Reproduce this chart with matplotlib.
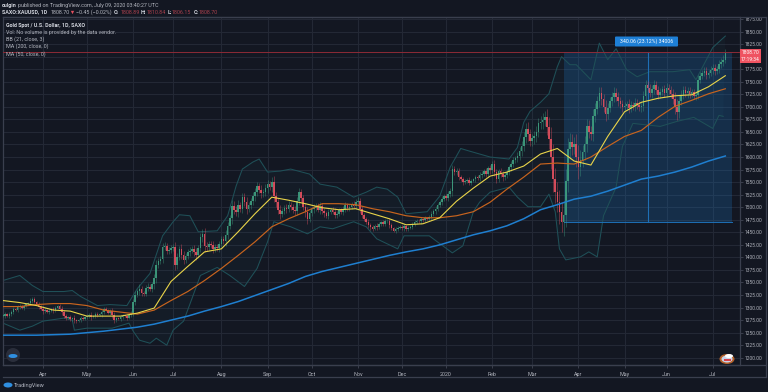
import numpy as np
import matplotlib
matplotlib.use('Agg')
import matplotlib.pyplot as plt
from matplotlib.patches import Rectangle, Circle, Ellipse, FancyBboxPatch

plt.rcParams['font.family'] = ['Roboto', 'DejaVu Sans']

# daily closes
closes = [
    1284, 1287, 1283, 1288, 1291, 1298, 1295, 1301, 1304, 1300, 1304, 1307, 1310, 1314, 1318, 1312, 1307, 1302, 1298, 1293,
    1296, 1292, 1294, 1297, 1295, 1300, 1304, 1298, 1291, 1284, 1279, 1281, 1277, 1279, 1275, 1273, 1276, 1280, 1278, 1281,
    1283, 1286, 1281, 1284, 1288, 1285, 1287, 1291, 1298, 1296, 1290, 1293, 1286, 1275, 1279, 1277, 1281, 1284, 1283, 1280,
    1285, 1290, 1312, 1326, 1333, 1338, 1330, 1328, 1340, 1342, 1337, 1346, 1358, 1385, 1392, 1397, 1421, 1423, 1412, 1415,
    1418, 1421, 1384, 1400, 1417, 1405, 1394, 1403, 1410, 1413, 1417, 1410, 1404, 1418, 1440, 1447, 1423, 1420, 1427, 1424,
    1417, 1421, 1418, 1426, 1437, 1432, 1445, 1463, 1478, 1503, 1495, 1490, 1504, 1497, 1520, 1510, 1497, 1504, 1512, 1522,
    1530, 1542, 1535, 1528, 1530, 1538, 1546, 1540, 1550, 1522, 1510, 1495, 1487, 1492, 1498, 1497, 1505, 1500, 1495, 1493,
    1512, 1530, 1518, 1500, 1490, 1477, 1488, 1496, 1499, 1503, 1495, 1502, 1492, 1488, 1483, 1490, 1495, 1491, 1485, 1487,
    1494, 1490, 1497, 1504, 1498, 1500, 1507, 1503, 1510, 1512, 1496, 1484, 1477, 1470, 1464, 1460, 1457, 1463, 1460, 1466,
    1470, 1467, 1472, 1473, 1465, 1458, 1453, 1456, 1459, 1461, 1458, 1462, 1456, 1459, 1461, 1466, 1470, 1473, 1472, 1476,
    1474, 1478, 1477, 1480, 1487, 1492, 1497, 1504, 1510, 1517, 1522, 1519, 1527, 1532, 1576, 1570, 1573, 1560, 1556, 1550,
    1552, 1555, 1549, 1553, 1556, 1560, 1558, 1564, 1567, 1572, 1566, 1578, 1574, 1586, 1570, 1556, 1572, 1566, 1560, 1565,
    1570, 1580, 1586, 1594, 1598, 1602, 1612, 1622, 1640, 1655, 1645, 1631, 1637, 1641, 1650, 1668, 1669, 1674, 1679, 1660,
    1635, 1600, 1556, 1530, 1510, 1490, 1471, 1484, 1552, 1615, 1629, 1620, 1625, 1600, 1580, 1595, 1610, 1625, 1661, 1650,
    1645, 1681, 1695, 1711, 1728, 1716, 1700, 1685, 1698, 1711, 1720, 1728, 1720, 1711, 1705, 1699, 1702, 1705, 1697, 1703,
    1701, 1708, 1704, 1699, 1701, 1722, 1744, 1738, 1727, 1735, 1744, 1733, 1724, 1730, 1736, 1728, 1738, 1733, 1725, 1715,
    1700, 1689, 1712, 1724, 1734, 1727, 1731, 1725, 1729, 1722, 1724, 1754, 1762, 1768, 1772, 1764, 1768, 1774, 1778, 1771,
    1775, 1785, 1790, 1794, 1809,
]

# wick length beyond the body
wicks = [
    3, 4, 2, 3, 5, 3, 2, 4, 3, 2, 4, 3, 2, 5, 4, 3, 2, 4, 3, 5,
    3, 2, 4, 3, 5, 4, 2, 3, 5, 4, 3, 2, 4, 3, 6, 3, 2, 4, 3, 2,
    4, 3, 5, 2, 4, 3, 2, 5, 4, 3, 2, 4, 6, 5, 3, 2, 4, 3, 2, 5,
    3, 4, 6, 7, 5, 8, 6, 4, 5, 6, 4, 5, 8, 9, 6, 5, 8, 7, 6, 5,
    7, 6, 10, 8, 6, 9, 7, 5, 6, 8, 5, 7, 9, 6, 8, 10, 12, 7, 6, 5,
    8, 6, 5, 7, 6, 5, 9, 8, 7, 12, 9, 8, 10, 7, 9, 8, 10, 6, 7, 8,
    9, 8, 6, 10, 7, 8, 9, 6, 10, 12, 9, 8, 10, 7, 6, 8, 7, 5, 6, 8,
    9, 8, 7, 6, 9, 10, 6, 5, 7, 6, 5, 8, 6, 7, 5, 6, 4, 5, 7, 6,
    5, 4, 6, 7, 5, 6, 4, 5, 6, 8, 7, 6, 5, 4, 6, 5, 4, 3, 5, 4,
    3, 5, 4, 3, 6, 4, 3, 5, 4, 3, 4, 5, 3, 4, 3, 5, 4, 3, 4, 5,
    3, 4, 3, 4, 5, 4, 6, 5, 4, 6, 5, 4, 6, 7, 9, 6, 5, 6, 4, 5,
    4, 3, 5, 4, 3, 5, 4, 6, 5, 4, 6, 5, 7, 6, 8, 7, 5, 6, 7, 5,
    6, 5, 7, 6, 5, 8, 7, 9, 10, 12, 14, 10, 9, 11, 12, 10, 13, 14, 12, 16,
    20, 24, 26, 22, 20, 24, 20, 28, 24, 22, 18, 16, 14, 20, 24, 18, 14, 16, 15, 12,
    11, 14, 12, 10, 11, 12, 10, 14, 9, 8, 10, 11, 9, 10, 8, 9, 8, 7, 10, 8,
    7, 9, 8, 7, 9, 10, 9, 8, 7, 9, 10, 8, 9, 7, 6, 8, 9, 7, 8, 10,
    14, 16, 12, 9, 8, 7, 9, 8, 6, 7, 8, 9, 7, 6, 7, 8, 6, 7, 8, 7,
    6, 8, 7, 9, 6,
]

# moving averages, sampled every 8 bars
ma_step = 8
ma20 = [1314, 1310, 1304, 1295, 1293, 1283, 1283, 1283, 1289, 1299, 1352, 1382, 1411, 1417, 1451, 1487, 1520, 1514, 1507, 1499, 1495, 1497,
        1487, 1477, 1465, 1467, 1479, 1512, 1538, 1562, 1570, 1582, 1606, 1617, 1592, 1584, 1641, 1690, 1709, 1717, 1722, 1724, 1740, 1762]
ma50 = [1302, 1302, 1306, 1308, 1308, 1304, 1295, 1291, 1287, 1295, 1314, 1332, 1354, 1378, 1404, 1431, 1461, 1477, 1491, 1507, 1507, 1505,
        1497, 1491, 1483, 1479, 1479, 1483, 1491, 1510, 1536, 1560, 1586, 1588, 1586, 1600, 1621, 1641, 1653, 1679, 1701, 1713, 1726, 1736]
ma200 = [1245, 1245, 1245, 1246, 1247, 1250, 1253, 1257, 1261, 1267, 1275, 1283, 1293, 1302, 1312, 1324, 1336, 1348, 1362, 1372, 1380, 1388,
         1396, 1404, 1411, 1417, 1425, 1435, 1445, 1453, 1463, 1477, 1495, 1505, 1516, 1522, 1532, 1544, 1556, 1562, 1570, 1580, 1592, 1602]

# bollinger bands
bb_up_bars = [0, 8, 14, 19, 29, 33, 37, 45, 51, 59, 64, 70, 76, 81, 84, 89, 93, 102, 107, 111, 114, 119, 122, 126, 132, 137, 146, 151, 159, 167, 173, 178,
              183, 188, 192, 202, 208, 213, 218, 222, 232, 241, 245, 248, 251, 256, 260, 264, 266, 270, 273, 280, 284, 288, 292, 297, 302, 308, 319, 327, 330, 335, 338, 344]
bb_up = [1354, 1364, 1344, 1332, 1332, 1334, 1322, 1304, 1306, 1304, 1338, 1368, 1443, 1471, 1485, 1483, 1451, 1453, 1483, 1542, 1576, 1590, 1596, 1570, 1572, 1576, 1566, 1546, 1540, 1520, 1530, 1540,
         1536, 1520, 1487, 1491, 1522, 1580, 1617, 1612, 1600, 1596, 1619, 1669, 1691, 1709, 1726, 1780, 1800, 1784, 1784, 1754, 1827, 1794, 1816, 1774, 1760, 1770, 1770, 1774, 1754, 1794, 1818, 1841]
bb_lo_bars = [0, 8, 14, 19, 29, 33, 34, 40, 46, 52, 60, 62, 65, 70, 73, 78, 81, 86, 90, 94, 102, 108, 115, 121, 126, 129, 137, 145, 151, 157, 167, 173, 178,
              188, 191, 203, 214, 219, 224, 227, 232, 241, 245, 250, 256, 260, 263, 265, 268, 275, 279, 283, 286, 292, 295, 300, 313, 321, 329, 338, 341, 343]
bb_lo = [1269, 1255, 1263, 1273, 1279, 1275, 1255, 1259, 1259, 1259, 1269, 1253, 1235, 1229, 1239, 1225, 1255, 1273, 1318, 1364, 1380, 1364, 1342, 1378, 1431, 1471, 1461, 1447, 1461, 1457, 1471, 1461, 1437,
         1417, 1443, 1443, 1409, 1423, 1491, 1510, 1530, 1540, 1520, 1501, 1501, 1526, 1491, 1417, 1395, 1401, 1411, 1401, 1483, 1540, 1621, 1667, 1661, 1671, 1679, 1657, 1683, 1681]

month_bars = [19, 40, 62, 81, 104, 126, 147, 169, 190, 211, 233, 252, 274, 296, 316, 338]
month_labels = ['Apr', 'May', 'Jun', 'Jul', 'Aug', 'Sep', 'Oct', 'Nov', 'Dec', '2020', 'Feb', 'Mar', 'Apr', 'May', 'Jun', 'Jul']
price_ticks = list(range(1200, 1876, 25))

last_price = 1808.70
box_bars = (267, 347)
box_prices = (1471, 1808.7)
arrow_bar = 307

BG = '#131722'
GRID = '#232835'
TXT = '#b2b5be'
UP = '#3f9f80'
DOWN = '#e4505f'

W, H = 768, 392
fig = plt.figure(figsize=(W / 100, H / 100), dpi=100, facecolor=BG)
ax = fig.add_axes([3 / W, 1 - 365 / H, 737 / W, 348 / H], facecolor=BG)
ax.set_xlim(0, 351)
ax.set_ylim(1185.6, 1879)

ax.set_yticks(price_ticks)
# the 1800 label sits under the last price tag
ax.set_yticklabels(['' if p == 1800 else f'{p:.2f}' for p in price_ticks])
ax.set_xticks(month_bars)
ax.set_xticklabels(month_labels)
ax.yaxis.tick_right()
ax.tick_params(axis='y', length=2, width=0.5, color='#4a4f5e', labelsize=3.5, labelcolor=TXT, pad=1.5)
ax.tick_params(axis='x', length=2, width=0.5, color='#4a4f5e', labelsize=3.9, labelcolor=TXT, pad=3)
ax.grid(True, color=GRID, linewidth=0.8)
ax.set_axisbelow(True)
for s in ax.spines.values():
    s.set_color('#3a3f4e')
    s.set_linewidth(0.9)

# bollinger band area and outlines
band_x = bb_up_bars + bb_lo_bars[::-1]
band_y = bb_up + bb_lo[::-1]
ax.fill(band_x, band_y, color='#2a8a8a', alpha=0.05, lw=0, zorder=1)
ax.plot(bb_up_bars, bb_up, color='#1f5058', lw=0.75, zorder=2)
ax.plot(bb_lo_bars, bb_lo, color='#1f5058', lw=0.75, zorder=2)

# measure box
ax.add_patch(Rectangle((box_bars[0], box_prices[0]), box_bars[1] - box_bars[0], box_prices[1] - box_prices[0],
                       facecolor='#1e6fb5', alpha=0.27, lw=0, zorder=1.5))
ax.plot(box_bars, [box_prices[0], box_prices[0]], color='#1e6fb5', lw=0.7, zorder=2)
ax.plot(box_bars, [box_prices[1], box_prices[1]], color='#1e6fb5', lw=0.7, zorder=2)
ax.plot([arrow_bar, arrow_bar], box_prices, color='#1e6fb5', lw=0.8, zorder=2)

# candles
bars = np.arange(len(closes))
closes = np.array(closes, dtype=float)
opens = np.r_[closes[0], closes[:-1]]
wicks = np.array(wicks[:len(closes)])
tops = np.maximum(opens, closes)
bottoms = np.minimum(opens, closes)
colors = [UP if c >= o else DOWN for o, c in zip(opens, closes)]
ax.vlines(bars, bottoms - wicks, tops + wicks, colors=colors, lw=0.45, alpha=0.6, zorder=3)
ax.bar(bars, np.maximum(tops - bottoms, 1.5), bottom=bottoms, width=0.75, color=colors, lw=0, alpha=0.9, zorder=3.5)

# moving averages
ma_bars = np.arange(len(ma20)) * ma_step
ax.plot(ma_bars, ma200, color='#1f7fd0', lw=1.1, zorder=4)
ax.plot(ma_bars, ma50, color='#c8641e', lw=0.85, zorder=4.1)
ax.plot(ma_bars, ma20, color='#ead54a', lw=0.8, zorder=4.2)

ax.axhline(last_price, color='#8c2a36', lw=0.7, zorder=4.5)

# overlay in pixel coordinates for the page furniture
ov = fig.add_axes([0, 0, 1, 1], facecolor='none')
ov.set_xlim(0, W)
ov.set_ylim(H, 0)
ov.axis('off')


def label(x, y, s, color=TXT, size=3.85, weight='normal', ha='left'):
    ov.text(x, y, s, color=color, fontsize=size, fontweight=weight, ha=ha, va='center')


ov.plot([766, 766], [17, 377], color='#3a3f4e', lw=0.9)
ov.plot([3, 766], [377, 377], color='#3a3f4e', lw=0.9)
ov.plot([3, 766], [17, 17], color='#3a3f4e', lw=0.9)
ov.plot([3, 766], [365, 365], color='#3a3f4e', lw=0.9)

label(2, 5, 'culgin', color='#d1d4dc', weight='bold')
label(18.5, 5, 'published on TradingView.com, July 09, 2020 03:40:27 UTC')
label(2, 12, 'SAXO:XAUUSD, 1D', color='#d1d4dc', weight='bold')
label(51, 12, '1808.70')
ov.plot([72], [12], marker='v', ms=2.4, color=DOWN, mew=0)
label(76, 12, '\u22120.45 (\u22120.02%)')
for x, s in [(114, 'O:'), (141, 'H:'), (168, 'L:'), (194, 'C:')]:
    label(x, 12, s, color='#d1d4dc', weight='bold')
for x, s in [(121, '1808.89'), (147, '1810.84'), (172, '1806.15'), (199, '1808.70')]:
    label(x, 12, s, color='#a8404c')

label(6, 25, 'Gold Spot / U.S. Dollar, 1D, SAXO', color='#d1d4dc', weight='bold')
label(6, 32.5, 'Vol: No volume is provided by the data vendor.')
label(6, 39.5, 'BB (21, close, 3)')
label(6, 46.5, 'MA (200, close, 0)')
label(6, 54, 'MA (50, close, 0)')

ov.add_patch(FancyBboxPatch((615, 36.5), 63, 10, boxstyle='round,pad=0,rounding_size=1', fc='#1e7fd6', ec='none'))
label(646.5, 41.5, '340.06 (23.12%) 34006', color='white', size=3.7, ha='center')

ov.add_patch(Rectangle((740, 49), 21, 14, fc='#ef5361', ec='none'))
label(750.5, 52.5, '1808.70', color='white', size=3.5, ha='center')
label(750.5, 59.5, '17:19:34', color='white', size=3.5, ha='center')

# chart watermark and footer logo
ov.add_patch(Circle((13, 355), 7, fc='#2a2e3b', ec='none'))
ov.add_patch(Ellipse((13, 356), 9, 4, fc='#2f8fe0', ec='none'))
ov.add_patch(Ellipse((8, 385), 9, 5, fc='#2f8fe0', ec='none'))
label(14, 385, 'TradingView', color='#aeb2bd', size=4.1)

# news flag marker
ov.add_patch(Ellipse((727, 359), 15, 10, fc='#b5622a', ec='none'))
ov.add_patch(Ellipse((727, 359), 11, 7, fc='#c9d4ea', ec='none'))
ov.add_patch(Rectangle((724, 359), 7, 2, fc='#d8404a', ec='none'))
ov.add_patch(Ellipse((729, 356), 8, 4, fc='white', ec='none'))

fig.savefig('out.png', dpi=100, facecolor=BG)
